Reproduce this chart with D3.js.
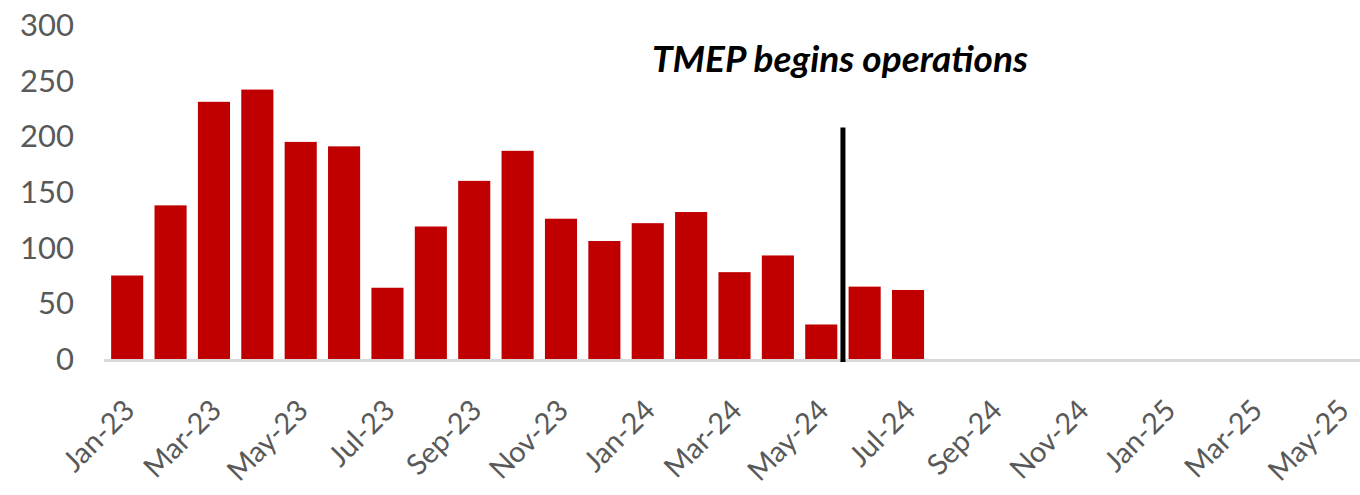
<!DOCTYPE html>
<html>
<head>
<meta charset="utf-8">
<script src="https://d3js.org/d3.v7.min.js"></script>
<style>
  body { margin: 0; background: #fff; }
  text { font-family: Lato, "Open Sans", sans-serif; }
</style>
</head>
<body>
<div id="chart"></div>
<script>
// months shown on the axis (Jan-23 .. May-25)
var months = ["Jan-23","Feb-23","Mar-23","Apr-23","May-23","Jun-23","Jul-23","Aug-23","Sep-23","Oct-23","Nov-23","Dec-23",
              "Jan-24","Feb-24","Mar-24","Apr-24","May-24","Jun-24","Jul-24","Aug-24","Sep-24","Oct-24","Nov-24","Dec-24",
              "Jan-25","Feb-25","Mar-25","Apr-25","May-25"];
// monthly values, only up to Jul-24
var values = [75, 138, 231, 242, 195, 191, 64, 119, 160, 187, 126, 106, 122, 132, 78, 93, 31, 65, 62];
var yTicks = [0, 50, 100, 150, 200, 250, 300];
var eventMonth = "Jun-24";   // line drawn just before this month
var eventTop = 208;
var eventLabel = "TMEP begins operations";

var width = 1360, height = 495;

var svg = d3.select("#chart").append("svg")
    .attr("width", width)
    .attr("height", height);

var x = d3.scaleBand()
    .domain(months)
    .range([105.5, 1363.5])
    .paddingInner(0.26)
    .paddingOuter(0.13);

var y = d3.scaleLinear()
    .domain([0, 300])
    .range([359, 25]);

// bars
svg.selectAll("rect.bar")
    .data(values)
    .enter().append("rect")
    .attr("class", "bar")
    .attr("x", (d, i) => x(months[i]))
    .attr("width", x.bandwidth())
    .attr("y", d => y(d))
    .attr("height", d => y(0) - y(d))
    .attr("fill", "#c00000");

// baseline
svg.append("line")
    .attr("x1", x.range()[0] - 1.5)
    .attr("x2", width)
    .attr("y1", y(0) + 1.5)
    .attr("y2", y(0) + 1.5)
    .attr("stroke", "#d9d9d9")
    .attr("stroke-width", 3);

// y labels
svg.selectAll("text.ytick")
    .data(yTicks)
    .enter().append("text")
    .attr("class", "ytick")
    .attr("x", 74)
    .attr("y", d => y(d))
    .attr("dy", "0.35em")
    .attr("text-anchor", "end")
    .attr("font-size", "31px")
    .attr("fill", "#595959")
    .text(d => d);

// x labels, every other month
var shown = months.filter((m, i) => i % 2 === 0);
svg.selectAll("text.xtick")
    .data(shown)
    .enter().append("text")
    .attr("class", "xtick")
    .attr("transform", d => "translate(" + (x(d) + x.bandwidth() / 2 + 2) + ",405) rotate(-45)")
    .attr("dy", "0.35em")
    .attr("text-anchor", "end")
    .attr("font-size", "29px")
    .attr("fill", "#595959")
    .text(d => d);

// event line
var ex = x(eventMonth) - x.step() * x.paddingInner() / 2;
svg.append("line")
    .attr("x1", ex).attr("x2", ex)
    .attr("y1", y(eventTop))
    .attr("y2", y(0) + 3)
    .attr("stroke", "#000")
    .attr("stroke-width", 5);

svg.append("text")
    .attr("x", ex - 3)
    .attr("y", 72)
    .attr("text-anchor", "middle")
    .attr("font-size", "37px")
    .attr("font-weight", "bold")
    .attr("font-style", "italic")
    .attr("fill", "#000")
    .text(eventLabel);
</script>
</body>
</html>
